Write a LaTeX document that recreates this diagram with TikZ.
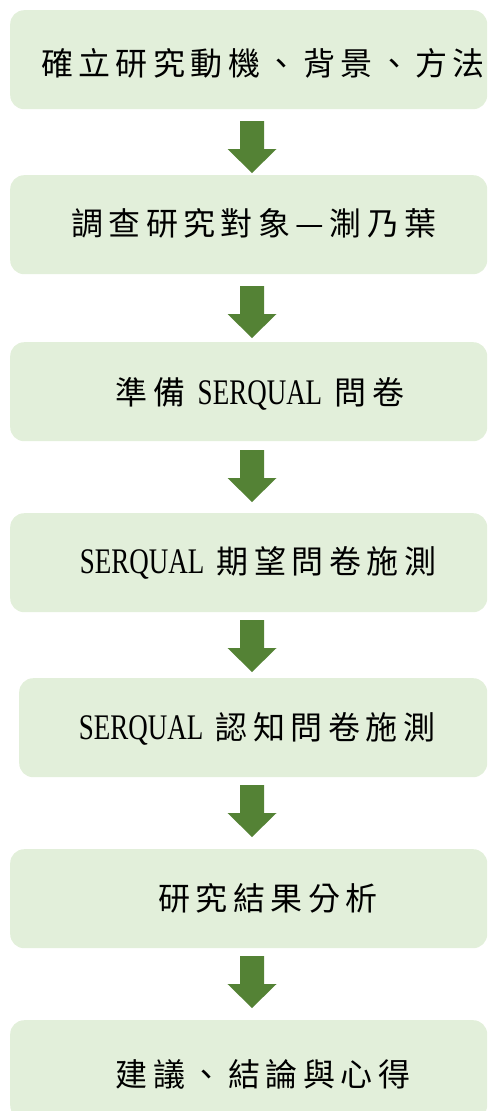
\documentclass[tikz,border=0pt]{standalone}
\usepackage{fontspec}
\newfontfamily\cjk{Noto Sans CJK TC}[LetterSpace=17]
\newfontfamily\lat{Liberation Serif}[FakeStretch=0.75]
\definecolor{boxfill}{HTML}{E2EFDA}
\definecolor{arrowgreen}{HTML}{548235}
\begin{document}
\begin{tikzpicture}[x=1pt,y=-1pt,
  box/.style={fill=boxfill, draw=none, rounded corners=14pt, minimum width=477pt, minimum height=99pt, anchor=north west, inner sep=0pt},
  lbl/.style={inner sep=0pt, anchor=center, text=black, font=\cjk\fontsize{32}{38}\selectfont},
  downarrow/.pic={\fill[arrowgreen] (-12,0) -- (12,0) -- (12,28) -- (24.5,28) -- (0,52) -- (-24.5,28) -- (-12,28) -- cycle;}
]
\useasboundingbox (0,0) rectangle (488,1111);
\newcommand\sq[1]{{\lat\fontsize{36}{40}\selectfont #1}}
% boxes
\node[box] (b1) at (10,10) {};
\node[box] (b2) at (10,175) {};
\node[box] (b3) at (10,342) {};
\node[box] (b4) at (10,513) {};
\node[box, minimum width=468pt] (b5) at (19,678) {};
\node[box] (b6) at (10,849) {};
\node[box] (b7) at (10,1020) {};
% labels
\node[lbl] (t1) at (263,63) {確立研究動機、背景、方法};
\node[lbl] (t2) at (254,223) {調查研究對象—淛乃葉};
\node[lbl] (t3) at (260,394) {準備 \sq{SERQUAL} 問卷};
\node[lbl] (t4) at (258,563) {\sq{SERQUAL} 期望問卷施測};
\node[lbl] (t5) at (257,729) {\sq{SERQUAL} 認知問卷施測};
\node[lbl] (t6) at (268,898) {研究結果分析};
\node[lbl] (t7) at (263,1074) {建議、結論與心得};
% arrows
\pic at (252,121) {downarrow};
\pic at (252,286) {downarrow};
\pic at (252,450) {downarrow};
\pic at (252,620) {downarrow};
\pic at (252,785) {downarrow};
\pic at (252,956) {downarrow};
\end{tikzpicture}
\end{document}
